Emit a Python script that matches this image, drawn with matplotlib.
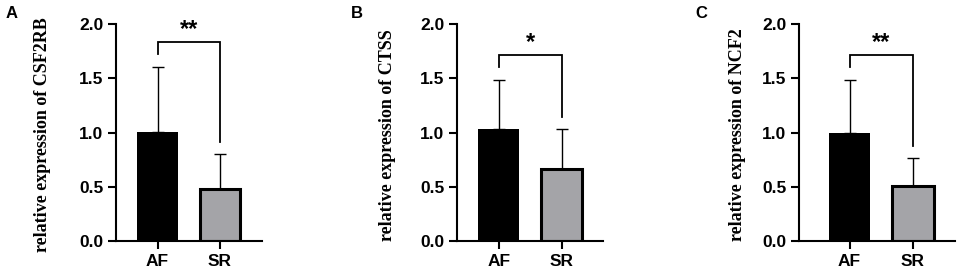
import matplotlib
matplotlib.use("Agg")
import matplotlib.pyplot as plt

groups = ["AF", "SR"]
genes = ["CSF2RB", "CTSS", "NCF2"]
panel_letters = ["A", "B", "C"]
means = {"CSF2RB": [1.01, 0.48], "CTSS": [1.03, 0.66], "NCF2": [1.00, 0.51]}
errors = {"CSF2RB": [0.60, 0.32], "CTSS": [0.46, 0.37], "NCF2": [0.49, 0.26]}
sig = {"CSF2RB": "**", "CTSS": "*", "NCF2": "**"}
# bracket: top, left leg end, right leg end
brackets = {"CSF2RB": [1.84, 1.73, 0.91], "CTSS": [1.72, 1.61, 1.14], "NCF2": [1.72, 1.61, 0.88]}
yticks = [0.0, 0.5, 1.0, 1.5, 2.0]

W, H = 957, 271
fig = plt.figure(figsize=(W / 100, H / 100), dpi=100)

# axes pixel boxes (left, right), xlims
axes_px = [(116, 262, (-0.664, 1.672)), (457, 603, (-0.663, 1.659)), (799, 955, (-0.795, 1.66))]
ylabel_x = [43, 387, 738]
letter_x = [12, 357, 701]
top_px, bot_px = 24.3, 241

sans = "Liberation Sans"
serif = "Liberation Serif"

for i, g in enumerate(genes):
    l, r, xl = axes_px[i]
    ax = fig.add_axes([l / W, 1 - bot_px / H, (r - l) / W, (bot_px - top_px) / H])
    x = [0, 1]
    ax.bar(x, means[g], width=0.655, color=["black", "#a4a4a8"], edgecolor="black",
           linewidth=[0, 2.2], zorder=2)
    ax.errorbar(x, means[g], yerr=[[0, 0], errors[g]], fmt="none", ecolor="black",
                elinewidth=1.0, capsize=4.3, capthick=1.0, zorder=1)
    t, ll, rl = brackets[g]
    ax.plot([0, 0, 1, 1], [ll, t, t, rl], color="black", lw=1.3, clip_on=False,
            solid_joinstyle="miter")
    ax.text(0.5, t + 0.11, sig[g], ha="center", va="center", fontsize=17,
            fontweight="bold", family=sans)
    ax.set_xlim(*xl)
    ax.set_ylim(0, 2.0)
    ax.set_yticks(yticks)
    ax.set_yticklabels([f"{v:.1f}" for v in yticks], fontsize=12.5, fontweight="bold", family=sans)
    ax.set_xticks(x)
    ax.set_xticklabels(groups, fontsize=12.5, fontweight="bold", family=sans)
    for s in ["top", "right"]:
        ax.spines[s].set_visible(False)
    for s in ["left", "bottom"]:
        ax.spines[s].set_linewidth(1.5)
    ax.tick_params(axis="both", direction="out", length=6, width=1.5, pad=3)
    fig.text(ylabel_x[i] / W, 1 - 135 / H, f"relative expression of {g}", rotation=90,
             ha="center", va="center", fontsize=13, fontweight="bold", family=serif)
    fig.text(letter_x[i] / W, 1 - 13 / H, panel_letters[i], ha="center", va="center",
             fontsize=12, fontweight="bold", family=sans)

fig.savefig("out.png", dpi=100)
